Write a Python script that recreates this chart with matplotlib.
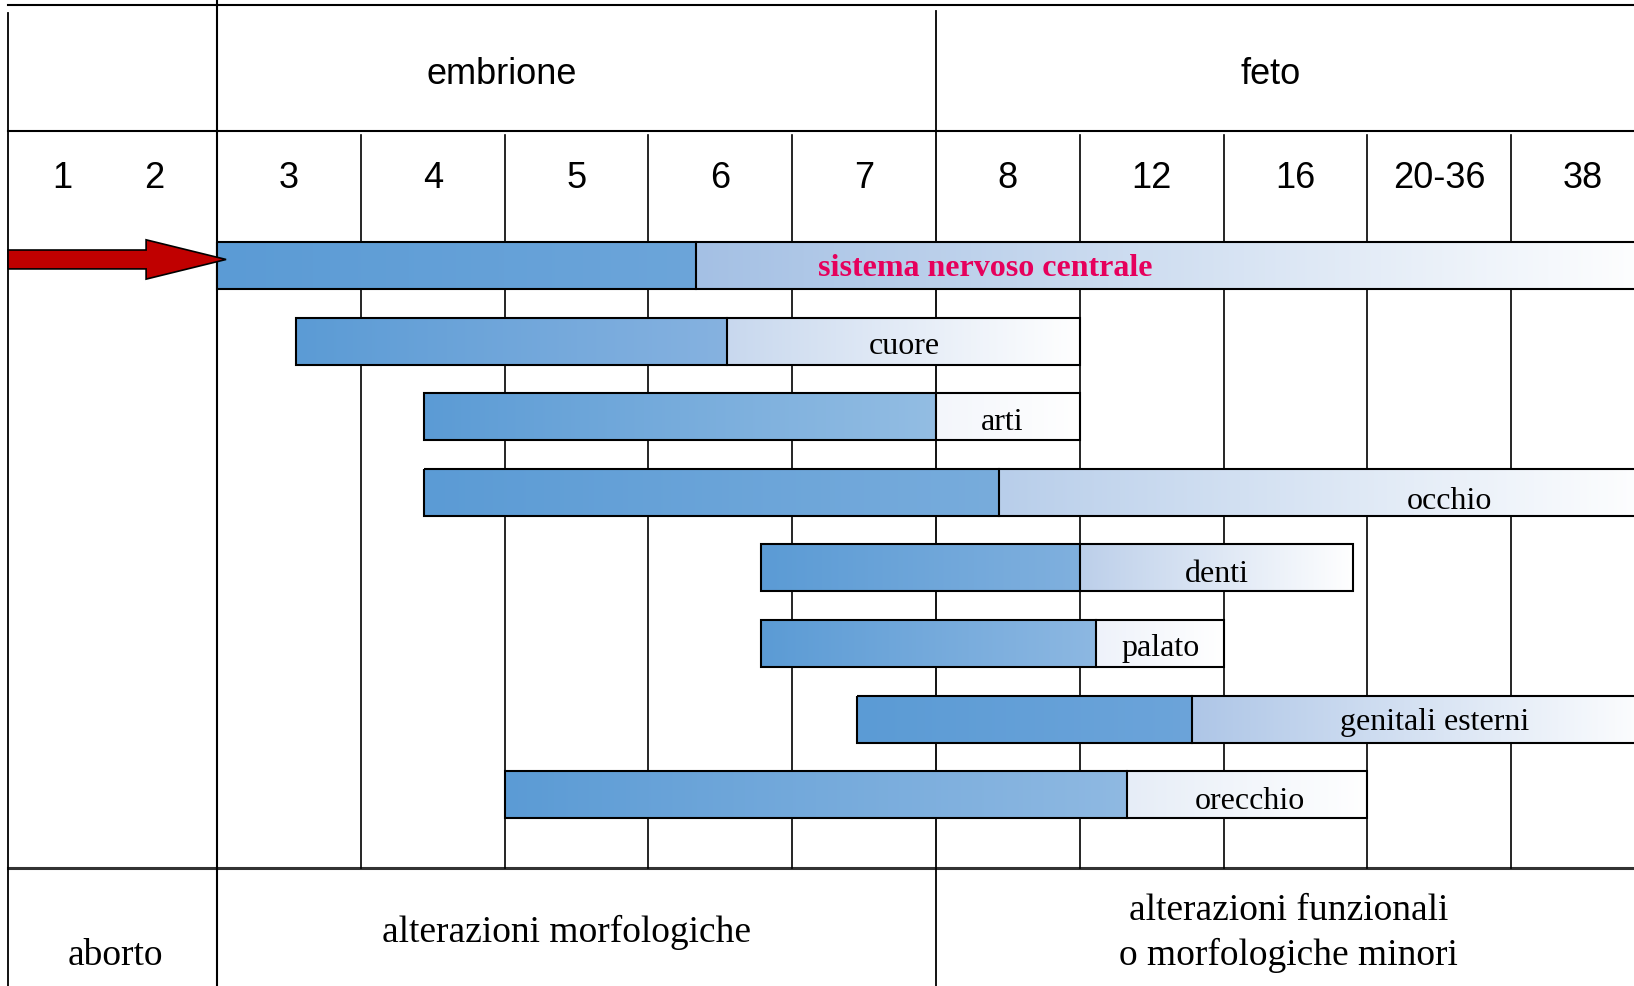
import numpy as np
import matplotlib
matplotlib.use("Agg")
import matplotlib.pyplot as plt
from matplotlib.patches import Rectangle, FancyArrow
from matplotlib.colors import to_rgb

# --- data (x in table columns: column k = k-th week column, 3 .. 38) ---
organs = ["sistema nervoso centrale", "cuore", "arti", "occhio",
          "denti", "palato", "genitali esterni", "orecchio"]
start_col = [0.0, 0.55, 1.44, 1.44, 3.78, 3.78, 4.45, 2.0]
dark_end_col = [3.33, 3.55, 5.0, 5.44, 6.0, 6.11, 6.78, 6.33]
end_col = [10.0, 6.0, 6.0, 10.0, 7.9, 7.0, 10.0, 8.0]

early_weeks = ["1", "2"]
weeks = ["3", "4", "5", "6", "7", "8", "12", "16", "20-36", "38"]
phases = ["embrione", "feto"]
outcomes = ["aborto", "alterazioni morfologiche",
            "alterazioni funzionali\no morfologiche minori"]

# --- styles / layout ---
dark_start = "#5b9bd5"
dark_end = ["#6ca5da", "#86b2e0", "#93bde3", "#78acdc",
            "#80b0de", "#8db8e2", "#6ca4da", "#8fb9e2"]
light_start = ["#a4c0e4", "#c8d8ee", "#f3f6fb", "#b8ceea",
               "#bccfea", "#eef2fa", "#aec6e7", "#e6edf7"]
label_x = [5.34, 4.78, 5.46, 8.57, 6.95, 6.56, 8.47, 7.18]
label_dy = [0.04, 0.07, 0.07, 0.12, 0.09, 0.07, 0.04, 0.09]

bar_h = 0.62
left_edge = -1.453
top_y = -3.446
head_y = -1.779
bottom_y = 7.97

fig = plt.figure(figsize=(16.34, 9.86), dpi=100)
ax = fig.add_axes([0, 0, 1, 1])
ax.axis("off")


def gradient(x0, x1, y, c0, c1):
    t = np.linspace(0, 1, 256)[None, :, None]
    img = np.array(to_rgb(c0))[None, None, :] * (1 - t) + np.array(to_rgb(c1))[None, None, :] * t
    ax.imshow(img, extent=(x0, x1, y + bar_h / 2, y - bar_h / 2),
              aspect="auto", interpolation="bilinear", zorder=2)


for i, name in enumerate(organs):
    gradient(start_col[i], dark_end_col[i], i, dark_start, dark_end[i])
    gradient(dark_end_col[i], end_col[i], i, light_start[i], "#ffffff")
    ax.add_patch(Rectangle((start_col[i], i - bar_h / 2), end_col[i] - start_col[i], bar_h,
                           fill=False, ec="black", lw=1.5, zorder=3))
    ax.plot([dark_end_col[i]] * 2, [i - bar_h / 2, i + bar_h / 2], color="black", lw=1.5, zorder=3)
    if i == 0:
        ax.text(label_x[i], i + label_dy[i], name, ha="center", va="center",
                family="Liberation Serif", fontweight="bold", fontsize=23,
                color="#e6005c", zorder=4)
    else:
        ax.text(label_x[i], i + label_dy[i], name, ha="center", va="center",
                family="Liberation Serif", fontsize=23, zorder=4)

# table grid
ax.plot([left_edge, 10], [top_y, top_y], color="black", lw=1.5, zorder=1)
ax.plot([left_edge, 10], [head_y, head_y], color="black", lw=1.5, zorder=1)
ax.plot([left_edge, 10], [bottom_y, bottom_y], color="#333333", lw=2.2, zorder=1)
ax.plot([left_edge, left_edge], [top_y + 0.1, 9.6], color="black", lw=1.3, zorder=1)
ax.plot([0, 0], [-3.6, 9.6], color="black", lw=1.5, zorder=1)
ax.plot([5, 5], [top_y + 0.08, 9.6], color="black", lw=1.3, zorder=1)
for k in range(1, 10):
    if k != 5:
        ax.plot([k, k], [head_y + 0.05, bottom_y], color="black", lw=1.2, zorder=1)

# header texts
ax.text(1.98, -2.52, phases[0], ha="center", va="center", family="Liberation Sans", fontsize=26)
ax.text(7.33, -2.52, phases[1], ha="center", va="center", family="Liberation Sans", fontsize=26)
for x, w in zip([-1.074, -0.438], early_weeks):
    ax.text(x, -1.155, w, ha="center", va="center", family="Liberation Sans", fontsize=26)
for k, w in enumerate(weeks):
    ax.text(k + 0.5, -1.155, w, ha="center", va="center", family="Liberation Sans", fontsize=26)

# bottom texts
ax.text(-0.709, 9.125, outcomes[0], ha="center", va="center", family="Liberation Serif", fontsize=27)
ax.text(2.43, 8.815, outcomes[1], ha="center", va="center", family="Liberation Serif", fontsize=27)
ax.text(7.45, 8.83, outcomes[2], ha="center", va="center", family="Liberation Serif",
        fontsize=27, linespacing=1.38)

# red arrow pointing at the start of the central nervous system bar
ax.add_patch(FancyArrow(left_edge, -0.08, 0.063 - left_edge, 0, width=0.25,
                        head_width=0.52, head_length=0.556, length_includes_head=True,
                        fc="#c00000", ec="black", lw=1.2, zorder=5))

ax.set_xlim(-1.509, 9.854)
ax.set_ylim(9.530, -3.512)
fig.savefig("out.png", dpi=100)
